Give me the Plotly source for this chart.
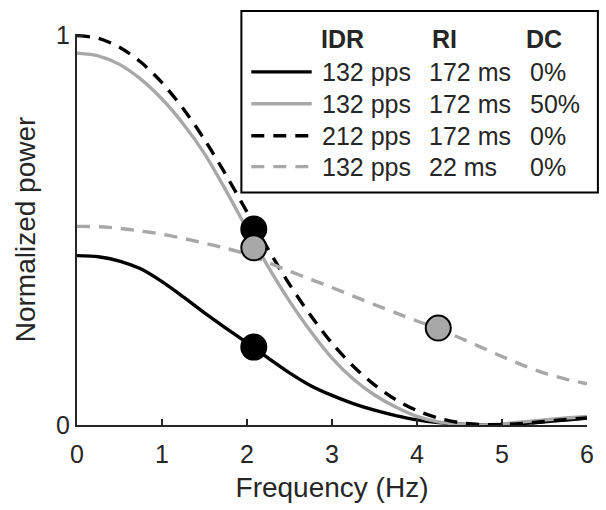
import plotly.graph_objects as go

# ---------------- data ----------------
freq = [0, 0.25, 0.5, 0.75, 1.0, 1.25, 1.5, 1.75, 2.0, 2.25, 2.5, 2.75, 3.0,
        3.25, 3.5, 3.75, 4.0, 4.25, 4.5, 4.75, 5.0, 5.25, 5.5, 5.75, 6.0]

p_132_172_0 = [0.435, 0.432, 0.421, 0.401, 0.368, 0.329, 0.288, 0.249, 0.211, 0.172,
               0.134, 0.101, 0.076, 0.055, 0.038, 0.024, 0.013, 0.006, 0.002, 0.000,
               0.001, 0.004, 0.008, 0.013, 0.018]
p_132_172_50 = [0.955, 0.948, 0.926, 0.888, 0.837, 0.773, 0.697, 0.603, 0.503, 0.406,
                0.318, 0.240, 0.172, 0.118, 0.077, 0.046, 0.022, 0.008, 0.002, 0.000,
                0.003, 0.008, 0.013, 0.018, 0.022]
p_212_172_0 = [1.000, 0.993, 0.970, 0.932, 0.879, 0.812, 0.733, 0.643, 0.547, 0.451,
               0.361, 0.281, 0.210, 0.151, 0.103, 0.065, 0.037, 0.018, 0.006, 0.001,
               0.001, 0.004, 0.009, 0.014, 0.018]
p_132_22_0 = [0.510, 0.509, 0.505, 0.498, 0.490, 0.479, 0.467, 0.454, 0.438, 0.417,
              0.395, 0.374, 0.353, 0.331, 0.309, 0.288, 0.267, 0.247, 0.224, 0.200,
              0.176, 0.153, 0.133, 0.118, 0.106]

# highlighted points
pts_black_x = [2.08, 2.08]
pts_black_y = [0.503, 0.200]
pts_gray_x = [2.08, 4.25]
pts_gray_y = [0.455, 0.249]

# legend table
leg_header = ["IDR", "RI", "DC"]
leg_idr = ["132 pps", "132 pps", "212 pps", "132 pps"]
leg_ri = ["172 ms", "172 ms", "172 ms", "22 ms"]
leg_dc = ["0%", "50%", "0%", "0%"]

x_ticks = [0, 1, 2, 3, 4, 5, 6]
y_ticks = [0, 1]

# ---------------- styles ----------------
BLACK = "#000000"
GRAY = "#a8a8a8"
TXT = "#262626"
FONT = "Liberation Sans, Arial, sans-serif"
DASH = "13px,9px"
LW = 3.4

series = [
    (p_132_172_0, BLACK, "solid"),
    (p_132_172_50, GRAY, "solid"),
    (p_212_172_0, BLACK, DASH),
    (p_132_22_0, GRAY, DASH),
]

W, H = 606, 510
ML, MR, MT, MB = 77, 14, 34, 84
PW, PH = W - ML - MR, H - MT - MB

def px2paper(px, py):
    return (px - ML) / PW, (H - MB - py) / PH

fig = go.Figure()
for ys, col, dash in series:
    fig.add_trace(go.Scatter(x=freq, y=ys, mode="lines",
                             line=dict(color=col, width=LW, dash=dash, shape="spline",
                                       smoothing=0.8),
                             showlegend=False, hoverinfo="skip"))

fig.add_trace(go.Scatter(x=pts_black_x, y=pts_black_y, mode="markers",
                         marker=dict(size=25, color=BLACK, line=dict(color=BLACK, width=2)),
                         showlegend=False, cliponaxis=False))
fig.add_trace(go.Scatter(x=pts_gray_x, y=pts_gray_y, mode="markers",
                         marker=dict(size=25, color=GRAY, line=dict(color=BLACK, width=2)),
                         showlegend=False, cliponaxis=False))

shapes = []
annotations = []

# legend box
bx0, by0 = px2paper(243, 193)
bx1, by1 = px2paper(603, 11)
shapes.append(dict(type="rect", xref="paper", yref="paper", x0=bx0, y0=by0, x1=bx1, y1=by1,
                   line=dict(color=BLACK, width=2), fillcolor="white", layer="above"))

hdr_x = [321, 433, 528]
col_x = [322, 430, 532]
hy = 39
for hx, t in zip(hdr_x, leg_header):
    ax, ay = px2paper(hx, hy)
    annotations.append(dict(x=ax, y=ay, xref="paper", yref="paper", text="<b>%s</b>" % t,
                            showarrow=False, xanchor="left", yanchor="middle",
                            font=dict(family=FONT, size=25, color=TXT)))

row_y = [72, 104, 136, 167]
for i, (ys, col, dash) in enumerate(series):
    ry = row_y[i]
    lx0, ly = px2paper(253, ry)
    lx1, _ = px2paper(314, ry)
    shapes.append(dict(type="line", xref="paper", yref="paper", x0=lx0, x1=lx1, y0=ly, y1=ly,
                       line=dict(color=col, width=LW, dash=dash), layer="above"))
    for cx, t in zip(col_x, [leg_idr[i], leg_ri[i], leg_dc[i]]):
        ax, ay = px2paper(cx, ry)
        annotations.append(dict(x=ax, y=ay, xref="paper", yref="paper", text=t,
                                showarrow=False, xanchor="left", yanchor="middle",
                                font=dict(family=FONT, size=25, color=TXT)))

fig.update_layout(
    width=W, height=H,
    margin=dict(l=ML, r=MR, t=MT, b=MB),
    plot_bgcolor="white", paper_bgcolor="white",
    font=dict(family=FONT, color=TXT),
    shapes=shapes, annotations=annotations,
)
fig.update_xaxes(range=[0, 6], tickvals=x_ticks, ticks="inside", ticklen=6, tickwidth=2,
                 tickcolor=TXT, showline=True, linecolor=TXT, linewidth=2, showgrid=False,
                 zeroline=False, ticklabelstandoff=6,
                 tickfont=dict(size=25, family=FONT, color=TXT),
                 title=dict(text="Frequency (Hz)", font=dict(size=28, family=FONT, color=TXT),
                            standoff=10))
fig.update_yaxes(range=[0, 1.004], tickvals=y_ticks, ticks="inside", ticklen=6, tickwidth=2,
                 tickcolor=TXT, showline=True, linecolor=TXT, linewidth=2, showgrid=False,
                 zeroline=False, tickfont=dict(size=25, family=FONT, color=TXT),
                 title=dict(text="Normalized power", font=dict(size=28, family=FONT, color=TXT),
                            standoff=12))

fig.write_html("out.html")
